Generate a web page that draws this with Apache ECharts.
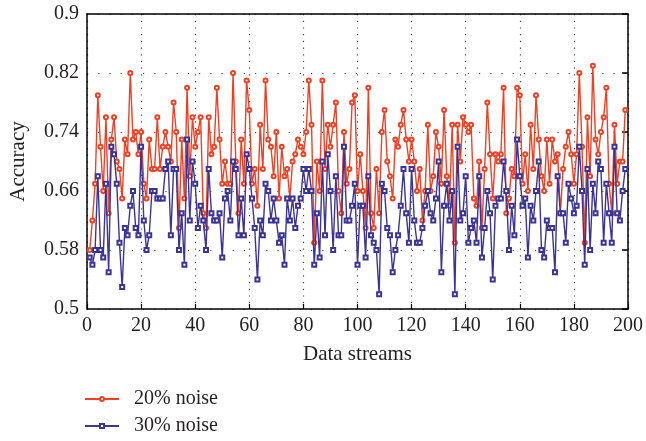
<!DOCTYPE html>
<html>
<head>
<meta charset="utf-8">
<title>Accuracy vs data streams</title>
<script src="https://cdn.jsdelivr.net/npm/echarts@6/dist/echarts.min.js"></script>
<style>
    html, body { margin: 0; padding: 0; background: #fff; }
    #line_noise { width: 646px; height: 441px; }
</style>
</head>
<body>
<div id="line_noise"></div>
<script>
// ------------------------------
// Data
// ------------------------------

var seriesNames = ['20% noise', '30% noise'];

var noise20 = [
    0.58, 0.62, 0.67, 0.79, 0.72, 0.66, 0.76, 0.63, 0.73, 0.76, 0.70, 0.69, 0.65, 0.73, 0.71, 0.82, 0.73, 0.74, 0.71, 0.74,
    0.67, 0.65, 0.73, 0.69, 0.69, 0.76, 0.69, 0.72, 0.74, 0.72, 0.70, 0.78, 0.74, 0.61, 0.73, 0.65, 0.80, 0.68, 0.76, 0.72,
    0.74, 0.76, 0.63, 0.61, 0.76, 0.71, 0.72, 0.80, 0.73, 0.67, 0.70, 0.67, 0.67, 0.82, 0.70, 0.63, 0.73, 0.67, 0.81, 0.77,
    0.67, 0.69, 0.64, 0.75, 0.69, 0.81, 0.73, 0.72, 0.68, 0.74, 0.65, 0.72, 0.68, 0.69, 0.65, 0.70, 0.71, 0.73, 0.72, 0.71,
    0.74, 0.81, 0.75, 0.59, 0.70, 0.66, 0.81, 0.69, 0.75, 0.72, 0.75, 0.78, 0.66, 0.63, 0.74, 0.67, 0.69, 0.78, 0.79, 0.66,
    0.71, 0.66, 0.61, 0.80, 0.63, 0.61, 0.69, 0.63, 0.74, 0.77, 0.70, 0.68, 0.65, 0.73, 0.72, 0.75, 0.77, 0.73, 0.70, 0.73,
    0.70, 0.66, 0.69, 0.62, 0.66, 0.75, 0.66, 0.68, 0.74, 0.72, 0.67, 0.77, 0.68, 0.64, 0.75, 0.59, 0.75, 0.70, 0.76, 0.75,
    0.74, 0.75, 0.65, 0.64, 0.70, 0.61, 0.69, 0.78, 0.71, 0.65, 0.71, 0.70, 0.71, 0.80, 0.63, 0.65, 0.69, 0.68, 0.80, 0.79,
    0.67, 0.71, 0.66, 0.75, 0.69, 0.79, 0.73, 0.68, 0.66, 0.73, 0.67, 0.73, 0.70, 0.71, 0.63, 0.69, 0.72, 0.74, 0.71, 0.67,
    0.71, 0.82, 0.72, 0.59, 0.76, 0.68, 0.83, 0.73, 0.71, 0.74, 0.76, 0.80, 0.67, 0.63, 0.75, 0.67, 0.70, 0.70, 0.77
];

var noise30 = [
    0.57, 0.56, 0.58, 0.68, 0.58, 0.57, 0.67, 0.55, 0.72, 0.71, 0.67, 0.59, 0.53, 0.61, 0.60, 0.64, 0.66, 0.61, 0.60, 0.72,
    0.62, 0.58, 0.60, 0.66, 0.66, 0.65, 0.65, 0.65, 0.69, 0.70, 0.60, 0.69, 0.69, 0.58, 0.63, 0.56, 0.73, 0.62, 0.70, 0.67,
    0.61, 0.64, 0.62, 0.58, 0.69, 0.63, 0.62, 0.62, 0.63, 0.57, 0.65, 0.66, 0.62, 0.70, 0.69, 0.60, 0.65, 0.60, 0.71, 0.69,
    0.65, 0.61, 0.54, 0.62, 0.60, 0.67, 0.66, 0.62, 0.65, 0.62, 0.59, 0.60, 0.56, 0.65, 0.62, 0.65, 0.61, 0.64, 0.65, 0.69,
    0.66, 0.69, 0.66, 0.56, 0.63, 0.57, 0.70, 0.60, 0.71, 0.66, 0.58, 0.68, 0.60, 0.60, 0.72, 0.62, 0.62, 0.64, 0.67, 0.56,
    0.64, 0.64, 0.57, 0.68, 0.60, 0.59, 0.58, 0.52, 0.67, 0.66, 0.61, 0.60, 0.55, 0.58, 0.60, 0.64, 0.69, 0.63, 0.59, 0.69,
    0.62, 0.59, 0.59, 0.61, 0.64, 0.66, 0.63, 0.62, 0.65, 0.70, 0.55, 0.64, 0.67, 0.62, 0.66, 0.52, 0.72, 0.62, 0.63, 0.68,
    0.59, 0.61, 0.62, 0.59, 0.68, 0.57, 0.61, 0.66, 0.63, 0.54, 0.64, 0.65, 0.65, 0.70, 0.66, 0.58, 0.64, 0.60, 0.73, 0.68,
    0.64, 0.65, 0.57, 0.64, 0.62, 0.66, 0.70, 0.58, 0.57, 0.62, 0.61, 0.61, 0.55, 0.68, 0.63, 0.63, 0.59, 0.67, 0.65, 0.63,
    0.64, 0.72, 0.66, 0.56, 0.69, 0.58, 0.67, 0.63, 0.70, 0.69, 0.59, 0.67, 0.63, 0.59, 0.72, 0.63, 0.62, 0.66, 0.69
];

var xTicks = [0, 20, 40, 60, 80, 100, 120, 140, 160, 180, 200];
var yTicks = [0.5, 0.58, 0.66, 0.74, 0.82, 0.9];

// Pair each value with its data stream index (1-based)
var toPairs = function(arr) {
    return arr.map(function(v, i) { return [i + 1, v]; });
};

// ------------------------------
// Chart options
// ------------------------------

var serifFont = '"Liberation Serif", "DejaVu Serif", serif';
var textColor = '#231f20';

var frameLine = { show: true, onZero: false, lineStyle: { color: '#000', width: 1.5 } };

var lineOption = {

    color: ['#ee4023', '#3b3494'],

    textStyle: {
        fontFamily: serifFont,
        color: textColor
    },

    animation: false,

    // Setup grid
    grid: {
        left: 87,
        right: 16,
        top: 14,
        bottom: 132,
        containLabel: false
    },

    // Add legend
    legend: {
        data: seriesNames,
        orient: 'vertical',
        left: 84,
        top: 388,
        height: 53,
        padding: 0,
        itemWidth: 34,
        itemHeight: 5,
        itemGap: 5,
        textStyle: {
            fontFamily: serifFont,
            fontSize: 20,
            lineHeight: 22,
            color: textColor,
            padding: [0, 0, 0, 10]
        }
    },

    // Horizontal axis
    xAxis: [{
        type: 'value',
        min: 0,
        max: 200,
        interval: 20,
        name: 'Data streams',
        nameLocation: 'middle',
        nameGap: 35,
        nameTextStyle: { fontSize: 21, color: textColor, fontFamily: serifFont },
        axisLine: frameLine,
        axisTick: { show: true, inside: true, length: 5, lineStyle: { color: '#000', width: 1.2 } },
        axisLabel: {
            fontSize: 20,
            color: textColor,
            margin: 7,
            customValues: xTicks
        },
        splitLine: {
            show: true,
            lineStyle: { color: '#444', width: 1.2, type: [1.2, 5.5] }
        }
    }, {
        type: 'value',
        position: 'top',
        min: 0,
        max: 200,
        interval: 20,
        axisLine: frameLine,
        axisTick: { show: false },
        axisLabel: { show: false },
        splitLine: { show: false }
    }],

    // Vertical axis
    yAxis: [{
        type: 'value',
        min: 0.5,
        max: 0.9,
        name: 'Accuracy',
        nameLocation: 'middle',
        nameGap: 58,
        nameTextStyle: { fontSize: 21, color: textColor, fontFamily: serifFont },
        axisLine: frameLine,
        axisTick: { show: false, customValues: yTicks },
        axisLabel: {
            fontSize: 20,
            color: textColor,
            margin: 8,
            customValues: yTicks
        },
        splitLine: {
            show: true,
            lineStyle: { color: '#444', width: 1.2, type: [1.2, 10] }
        }
    }, {
        type: 'value',
        position: 'right',
        min: 0.5,
        max: 0.9,
        axisLine: frameLine,
        axisTick: {
            show: true,
            inside: true,
            length: 6,
            customValues: yTicks,
            lineStyle: { color: '#000', width: 1.5 }
        },
        axisLabel: { show: false },
        splitLine: { show: false }
    }],

    // Add series
    series: [
        {
            name: seriesNames[0],
            type: 'line',
            data: toPairs(noise20),
            symbol: 'emptyCircle',
            symbolSize: 4,
            lineStyle: { width: 1.4 },
            itemStyle: { borderWidth: 1.2 },
            z: 3
        },
        {
            name: seriesNames[1],
            type: 'line',
            data: toPairs(noise30),
            symbol: 'emptyRect',
            symbolSize: 4,
            lineStyle: { width: 1.4 },
            itemStyle: { borderWidth: 1.2 },
            z: 4
        }
    ]
};

// ------------------------------
// Initialize
// ------------------------------

document.addEventListener('DOMContentLoaded', function() {
    if (typeof echarts == 'undefined') {
        console.warn('Warning - echarts.min.js is not loaded.');
        return;
    }
    var line_noise = echarts.init(document.getElementById('line_noise'));
    line_noise.setOption(lineOption);
});
</script>
</body>
</html>
